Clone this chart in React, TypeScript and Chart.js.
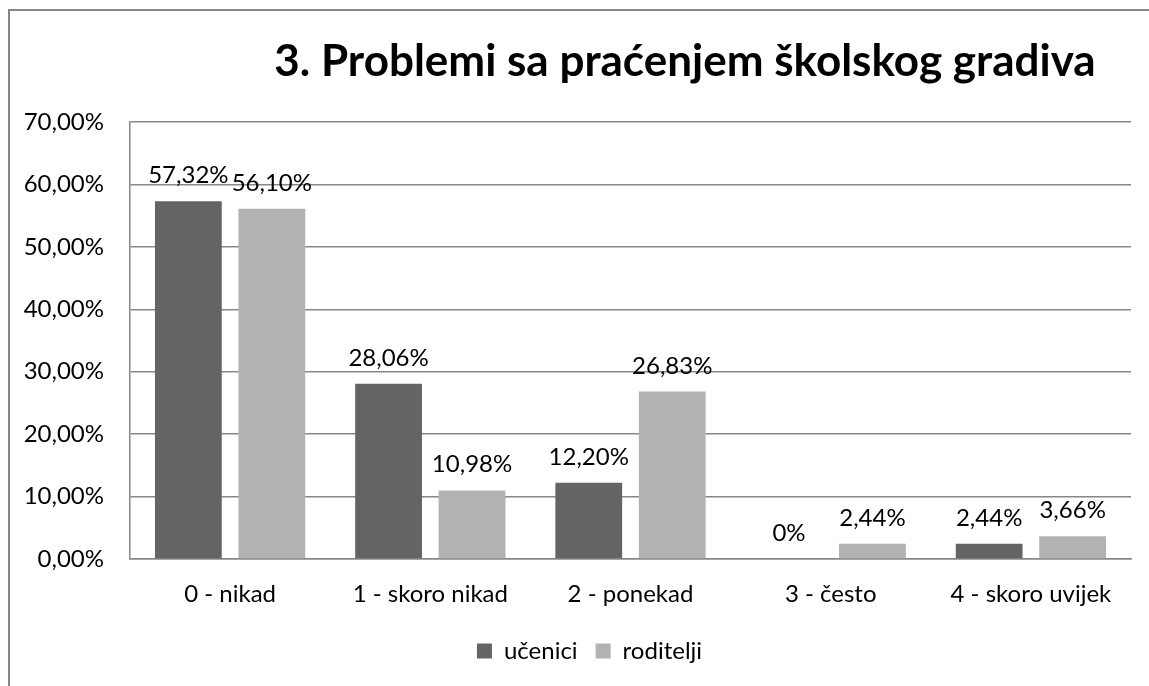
import React, { useEffect, useRef } from 'react';
import { Chart, registerables } from 'chart.js';

Chart.register(...registerables);

const TITLE = '3. Problemi sa praćenjem školskog gradiva';
const categories = ['0 - nikad', '1 - skoro nikad', '2 - ponekad', '3 - često', '4 - skoro uvijek'];
const seriesNames = ['učenici', 'roditelji'];
const ucenici = [57.32, 28.06, 12.2, 0, 2.44];
const roditelji = [56.1, 10.98, 26.83, 2.44, 3.66];
const Y_MIN = 0;
const Y_MAX = 70;
const Y_STEP = 10;

const FONT = 'Lato, "Open Sans", "DejaVu Sans", sans-serif';
const FS = 24;
const DARK = '#646464';
const LIGHT = '#b2b2b2';
const GRID = '#878787';

const fmtTick = (v: number) => v.toFixed(2).replace('.', ',') + '%';
const fmtLabel = (v: number) => (v === 0 ? '0%' : v.toFixed(2).replace('.', ',') + '%');

const decor = {
  id: 'decor',
  afterLayout(chart: any) {
    if (chart.legend) {
      chart.legend.left = 48;
    }
  },
  beforeDraw(chart: any) {
    const ctx = chart.ctx;
    ctx.save();
    ctx.fillStyle = '#ffffff';
    ctx.fillRect(0, 0, chart.width, chart.height);
    ctx.strokeStyle = GRID;
    ctx.lineWidth = 2;
    ctx.beginPath();
    ctx.moveTo(9, chart.height + 5);
    ctx.lineTo(9, 10);
    ctx.lineTo(chart.width + 5, 10);
    ctx.stroke();
    ctx.restore();
  },
  afterDatasetsDraw(chart: any) {
    const ctx = chart.ctx;
    ctx.save();
    ctx.font = `${FS}px ${FONT}`;
    ctx.fillStyle = '#000';
    ctx.textAlign = 'center';
    ctx.textBaseline = 'alphabetic';
    chart.data.datasets.forEach((ds: any, i: number) => {
      const meta = chart.getDatasetMeta(i);
      meta.data.forEach((el: any, j: number) => {
        ctx.fillText(fmtLabel(ds.data[j]), el.x, el.y - 18);
      });
    });
    ctx.restore();
  },
  afterDraw(chart: any) {
    const ctx = chart.ctx;
    ctx.save();
    ctx.font = `bold 44px ${FONT}`;
    ctx.fillStyle = '#000';
    ctx.textAlign = 'center';
    ctx.textBaseline = 'alphabetic';
    ctx.fillText(TITLE, 685, 76);
    ctx.restore();
  },
};

export default function App() {
  const ref = useRef<HTMLCanvasElement | null>(null);
  useEffect(() => {
    if (!ref.current) return;
    const chart = new Chart(ref.current, {
      type: 'bar',
      data: {
        labels: categories,
        datasets: [
          { label: seriesNames[0], data: ucenici, backgroundColor: DARK, borderWidth: 0 },
          { label: seriesNames[1], data: roditelji, backgroundColor: LIGHT, borderWidth: 0 },
        ],
      },
      options: {
        animation: false,
        responsive: false,
        devicePixelRatio: 1,
        datasets: { bar: { categoryPercentage: 0.834, barPercentage: 0.8 } },
        layout: { padding: { left: 8, right: 18, top: 122, bottom: 13 } },
        plugins: {
          title: { display: false },
          tooltip: { enabled: false },
          legend: {
            position: 'bottom',
            labels: {
              boxWidth: 15,
              boxHeight: 15,
              padding: 18,
              color: '#000',
              font: { family: FONT, size: FS },
            },
          },
        },
        scales: {
          x: {
            grid: { display: false, drawTicks: false },
            border: { display: true, color: GRID, width: 1.5 },
            ticks: { color: '#000', font: { family: FONT, size: FS }, padding: 21, maxRotation: 0 },
            afterFit: (s: any) => { s.height = 62; },
          },
          y: {
            min: Y_MIN,
            max: Y_MAX,
            ticks: {
              stepSize: Y_STEP,
              color: '#000',
              font: { family: FONT, size: FS },
              padding: 26,
              callback: (v: any) => fmtTick(Number(v)),
            },
            grid: { color: GRID, lineWidth: 1.5, drawTicks: false },
            border: { display: true, color: GRID, width: 1.5 },
            afterFit: (s: any) => { s.width = 122; },
          },
        },
      },
      plugins: [decor],
    });
    return () => chart.destroy();
  }, []);
  return (
    <div style={{ position: 'fixed', left: 0, top: 0, width: 1149, height: 686, background: '#fff' }}>
      <canvas ref={ref} width={1149} height={686} style={{ width: 1149, height: 686, display: 'block' }} />
    </div>
  );
}
